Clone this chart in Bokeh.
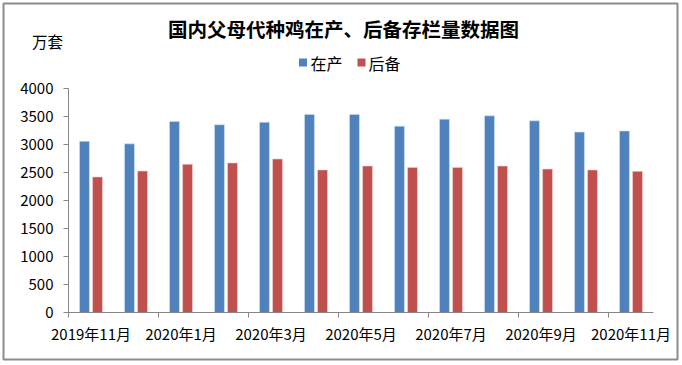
from bokeh.plotting import figure
from bokeh.models import Range1d, FixedTicker
from bokeh.core.properties import value
from bokeh.embed import file_html
from bokeh.resources import INLINE
import numpy as np

months = ["2019年11月", "2019年12月", "2020年1月", "2020年2月", "2020年3月", "2020年4月",
          "2020年5月", "2020年6月", "2020年7月", "2020年8月", "2020年9月", "2020年10月", "2020年11月"]
in_production = [3050, 3005, 3405, 3345, 3390, 3530, 3530, 3320, 3445, 3505, 3415, 3215, 3235]
reserve = [2415, 2520, 2640, 2665, 2735, 2540, 2610, 2585, 2585, 2610, 2555, 2540, 2515]
y_ticks = [0, 500, 1000, 1500, 2000, 2500, 3000, 3500, 4000]
title_text = "国内父母代种鸡在产、后备存栏量数据图"
unit_text = "万套"
series_names = ["在产", "后备"]

BLUE = "#4F81BD"
RED = "#C0504D"
FONT = "Noto Sans CJK SC"

W, H = 682, 365
X0, XS = 68.0, 45.0            # pixel of x=0, pixels per category
Y0, YS = 312.0, 224.5 / 4000   # pixel of y=0, pixels per unit


def dx(px):
    return (px - X0) / XS


def dy(py):
    return (Y0 - py) / YS


n = len(months)
centers = np.arange(n) + 0.5

p = figure(width=W, height=H, output_backend="svg", toolbar_location=None,
           x_range=Range1d(dx(0), dx(W)), y_range=Range1d(dy(H), dy(0)),
           min_border_left=0, min_border_right=0, min_border_top=0, min_border_bottom=0)
p.outline_line_color = None
p.grid.visible = False

p.vbar(x=centers - 0.145, width=0.22, top=in_production, fill_color=BLUE, line_color="#cfe0f0", line_width=0.6)
p.vbar(x=centers + 0.145, width=0.22, top=reserve, fill_color=RED, line_color="#f0d0d0", line_width=0.6)

# y axis fixed at x = 0
p.yaxis.fixed_location = 0
p.yaxis.bounds = (0, 4000)
p.yaxis.ticker = FixedTicker(ticks=y_ticks)
p.yaxis.axis_line_color = "#868686"
p.yaxis.major_tick_line_color = "#868686"
p.yaxis.major_tick_out = 5
p.yaxis.major_tick_in = 0
p.yaxis.minor_tick_line_color = None
p.yaxis.major_label_standoff = 10
p.yaxis.major_label_text_font = FONT
p.yaxis.major_label_text_font_size = "15px"
p.yaxis.major_label_text_color = "#000000"

# x axis fixed at y = 0
label_pos = [float(c) for c in centers[::2]]
p.xaxis.fixed_location = 0
p.xaxis.bounds = (0, n)
p.xaxis.ticker = FixedTicker(ticks=label_pos, minor_ticks=[float(v) for v in range(0, n, 2)])
p.xaxis.major_label_overrides = {float(c): months[i] for i, c in enumerate(centers) if i % 2 == 0}
p.xaxis.axis_line_color = "#868686"
p.xaxis.major_tick_line_color = None
p.xaxis.minor_tick_line_color = "#868686"
p.xaxis.minor_tick_out = 5
p.xaxis.minor_tick_in = 0
p.xaxis.major_label_standoff = 4
p.xaxis.major_label_text_font = FONT
p.xaxis.major_label_text_font_size = "15px"
p.xaxis.major_label_text_color = "#000000"

# title and unit
p.text(x=[dx(343)], y=[dy(28)], text=[title_text], text_font=value(FONT), text_font_size="19.5px",
       text_font_style="bold", text_align="center", text_baseline="middle", text_color="#000000")
p.text(x=[dx(47)], y=[dy(40)], text=[unit_text], text_font=value(FONT), text_font_size="15.5px",
       text_align="center", text_baseline="middle", text_color="#000000")

# legend
p.scatter(x=[dx(302.5), dx(361)], y=[dy(62), dy(62)], marker="square", size=8,
          fill_color=[BLUE, RED], line_color=None)
p.text(x=[dx(310), dx(368)], y=[dy(62), dy(62)], text=series_names, text_font=value(FONT),
       text_font_size="16px", text_align="left", text_baseline="middle", text_color="#000000")

# outer frame of the chart
p.quad(left=[dx(3)], right=[dx(677)], top=[dy(3)], bottom=[dy(359)],
       fill_color=None, line_color="#8c8c8c", line_width=2)

open("out.html", "w").write(file_html(p, INLINE))
